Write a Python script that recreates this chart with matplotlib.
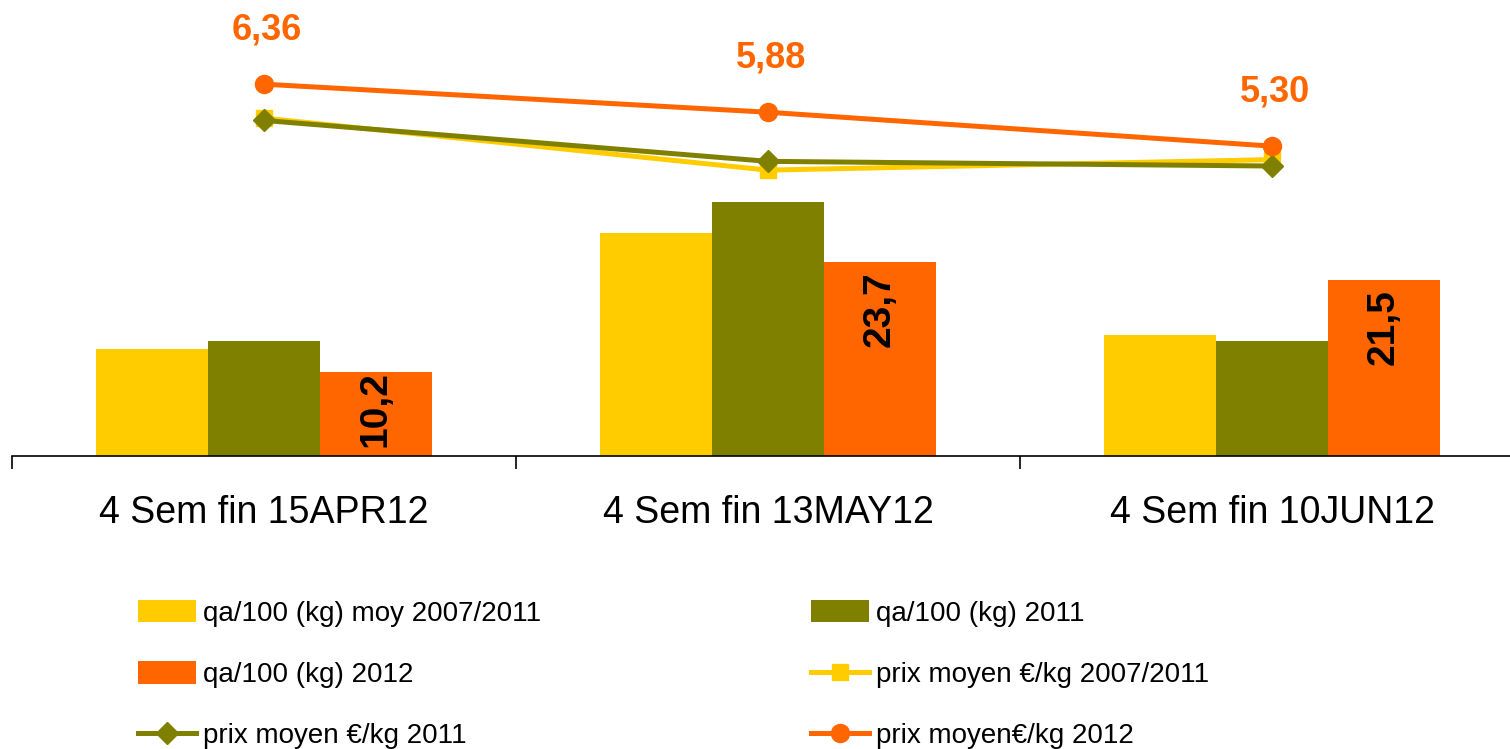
import numpy as np
import matplotlib
matplotlib.use('Agg')
import matplotlib.pyplot as plt

plt.rcParams['font.family'] = ['Liberation Sans', 'DejaVu Sans']

" DATA "

categories = ['4 Sem fin 15APR12', '4 Sem fin 13MAY12', '4 Sem fin 10JUN12']
qa_moy = [13.0, 27.2, 14.8]
qa_2011 = [14.0, 31.0, 14.0]
qa_2012 = [10.2, 23.7, 21.5]
prix_moy = [5.78, 4.89, 5.07]
prix_2011 = [5.74, 5.04, 4.96]
prix_2012 = [6.36, 5.88, 5.30]

c_yel = '#FFCC00'
c_olive = '#808000'
c_orange = '#FF6600'

W, H = 1510, 749
fig = plt.figure(figsize=(W / 100, H / 100), dpi=100)
ax = fig.add_axes([12 / W, (H - 456) / H, 1512 / W, 456 / H])
ax2 = ax.twinx()

x = np.arange(len(categories))
bw = 0.222
b1 = ax.bar(x - bw, qa_moy, bw, color=c_yel, label='qa/100 (kg) moy 2007/2011')
b2 = ax.bar(x, qa_2011, bw, color=c_olive, label='qa/100 (kg) 2011')
b3 = ax.bar(x + bw, qa_2012, bw, color=c_orange, label='qa/100 (kg) 2012')

for xi, v in zip(x + bw, qa_2012):
    txt = f'{v:.1f}'.replace('.', ',')
    if v < 15:
        # bar too short for "inside end": label gets centred like in Excel
        ax.annotate(txt, (xi, v / 2), xytext=(0, 4), textcoords='offset points',
                    rotation=90, ha='center', va='center', fontsize=28, fontweight='bold', color='black')
    else:
        ax.annotate(txt, (xi, v), xytext=(0, -7), textcoords='offset points',
                    rotation=90, ha='center', va='top', fontsize=28, fontweight='bold', color='black')

l1, = ax2.plot(x, prix_moy, '-s', color=c_yel, lw=3.6, ms=12, label='prix moyen €/kg 2007/2011')
l2, = ax2.plot(x, prix_2011, '-D', color=c_olive, lw=3.6, ms=11, label='prix moyen €/kg 2011')
l3, = ax2.plot(x, prix_2012, '-o', color=c_orange, lw=3.6, ms=13, label='prix moyen€/kg 2012')

for xi, v in zip(x, prix_2012):
    ax2.annotate(f'{v:.2f}'.replace('.', ','), (xi, v), xytext=(2, 39), textcoords='offset points',
                 ha='center', va='center', fontsize=26, fontweight='bold', color=c_orange)

ax.set_xlim(-0.5, 2.5)
ax.set_ylim(0, 55.6)
ax2.set_ylim(0, 7.8)

for a in (ax, ax2):
    for s in ('top', 'left', 'right'):
        a.spines[s].set_visible(False)
    a.set_yticks([])
ax2.spines['bottom'].set_visible(False)
ax.spines['bottom'].set_linewidth(1.2)

ax.set_xticks([-0.5, 0.5, 1.5, 2.5])
ax.set_xticklabels([])
ax.tick_params(axis='x', which='major', direction='out', length=9, width=1.2, color='black')
ax.set_xticks(x, minor=True)
ax.set_xticklabels(categories, minor=True, fontsize=27)
ax.tick_params(axis='x', which='minor', length=0, pad=28)

handles = [b1, b3, l2, b2, l1, l3]
labels = [h.get_label() for h in handles]
fig.legend(handles, labels, ncol=2, loc='upper left', bbox_to_anchor=(138 / W, 1 - 600 / H),
           frameon=False, fontsize=20, handlelength=2.1, handleheight=0.86, handletextpad=0.25,
           columnspacing=9.7, labelspacing=1.24, borderpad=0, borderaxespad=0, numpoints=1)

fig.savefig('out.png', dpi=100)
